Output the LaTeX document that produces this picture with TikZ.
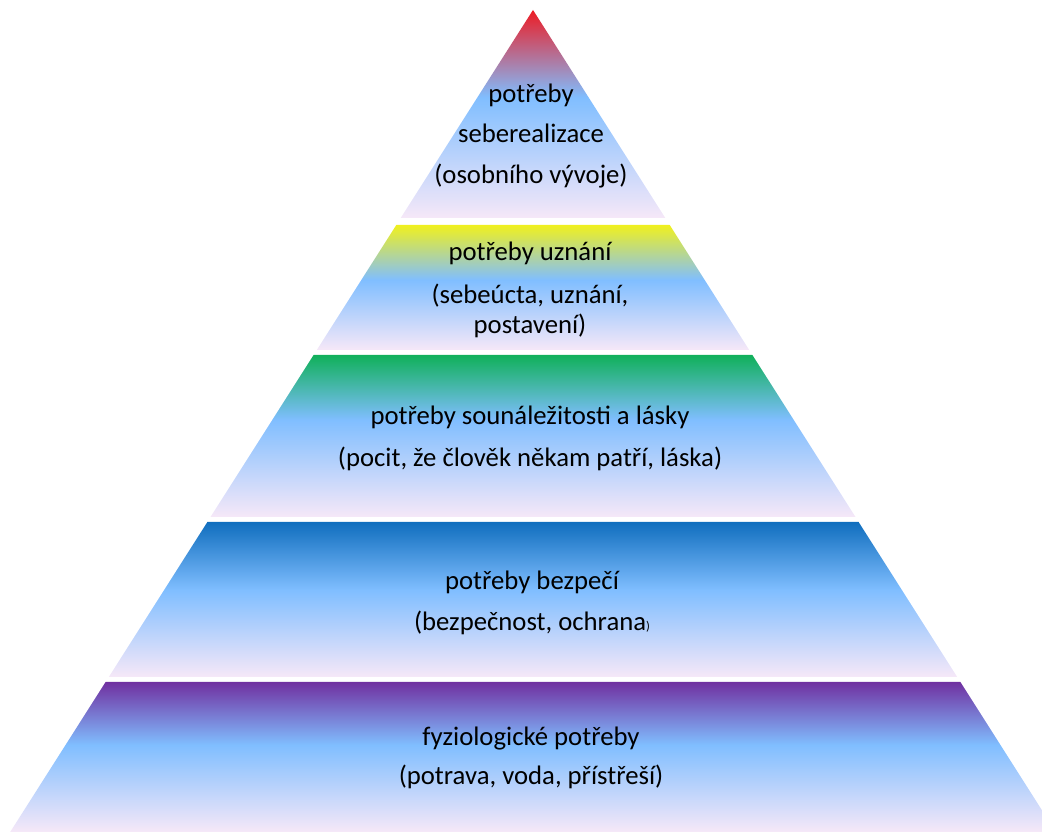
\documentclass[tikz,border=0pt]{standalone}
\usepackage{fontspec}
\setmainfont{Carlito}
\usepackage{xcolor}

\definecolor{lvbottom}{RGB}{246,232,248}
\definecolor{lvmid}{RGB}{128,190,255}
\definecolor{lvred}{RGB}{237,28,36}
\definecolor{lvyellow}{RGB}{240,240,30}
\definecolor{lvgreen}{RGB}{16,176,90}
\definecolor{lvblue}{RGB}{16,110,190}
\definecolor{lvpurple}{RGB}{112,48,160}

\pgfdeclareverticalshading{shadered}{100bp}{color(0bp)=(lvbottom); color(25bp)=(lvbottom); color(54bp)=(lvmid); color(75bp)=(lvred); color(100bp)=(lvred)}
\pgfdeclareverticalshading{shadeyellow}{100bp}{color(0bp)=(lvbottom); color(25bp)=(lvbottom); color(53bp)=(lvmid); color(75bp)=(lvyellow); color(100bp)=(lvyellow)}
\pgfdeclareverticalshading{shadegreen}{100bp}{color(0bp)=(lvbottom); color(25bp)=(lvbottom); color(55bp)=(lvmid); color(75bp)=(lvgreen); color(100bp)=(lvgreen)}
\pgfdeclareverticalshading{shadeblue}{100bp}{color(0bp)=(lvbottom); color(25bp)=(lvbottom); color(53bp)=(lvmid); color(75bp)=(lvblue); color(100bp)=(lvblue)}
\pgfdeclareverticalshading{shadepurple}{100bp}{color(0bp)=(lvbottom); color(25bp)=(lvbottom); color(54bp)=(lvmid); color(75bp)=(lvpurple); color(100bp)=(lvpurple)}

\begin{document}
\begin{tikzpicture}[x=0.025cm, y=-0.025cm,
    lbl/.style={anchor=base, inner sep=0pt, font=\fontsize{19}{22}\selectfont}]

    \clip (0,0) rectangle (1042,832);

    % levels of the pyramid
    \shade[shading=shadered] (533,10) -- (665.3,218) -- (400.7,218) -- cycle;
    \shade[shading=shadeyellow] (396.3,225) -- (669.7,225) -- (749.2,350) -- (316.8,350) -- cycle;
    \shade[shading=shadegreen] (313.6,355) -- (752.4,355) -- (855.5,517) -- (210.5,517) -- cycle;
    \shade[shading=shadeblue] (207.4,522) -- (858.6,522) -- (957.2,677) -- (108.8,677) -- cycle;
    \shade[shading=shadepurple] (105.6,682) -- (960.4,682) -- (1055.8,832) -- (10.2,832) -- cycle;

    \node[lbl] (self1) at (531,103) {potřeby};
    \node[lbl] (self2) at (531,143) {seberealizace};
    \node[lbl] (self3) at (531,184) {(osobního vývoje)};

    \node[lbl] (est1) at (530,261) {potřeby uznání};
    \node[lbl] (est2) at (530,304) {(sebeúcta, uznání,};
    \node[lbl] (est3) at (530,334) {postavení)};

    \node[lbl] (love1) at (530,425) {potřeby sounáležitosti a lásky};
    \node[lbl] (love2) at (530,467) {(pocit, že člověk někam patří, láska)};

    \node[lbl] (safe1) at (532,590) {potřeby bezpečí};
    \node[lbl] (safe2) at (532,631) {(bezpečnost, ochrana{\fontsize{9}{9}\selectfont)}};

    \node[lbl] (phys1) at (531,746) {fyziologické potřeby};
    \node[lbl] (phys2) at (531,785) {(potrava, voda, přístřeší)};
\end{tikzpicture}
\end{document}
